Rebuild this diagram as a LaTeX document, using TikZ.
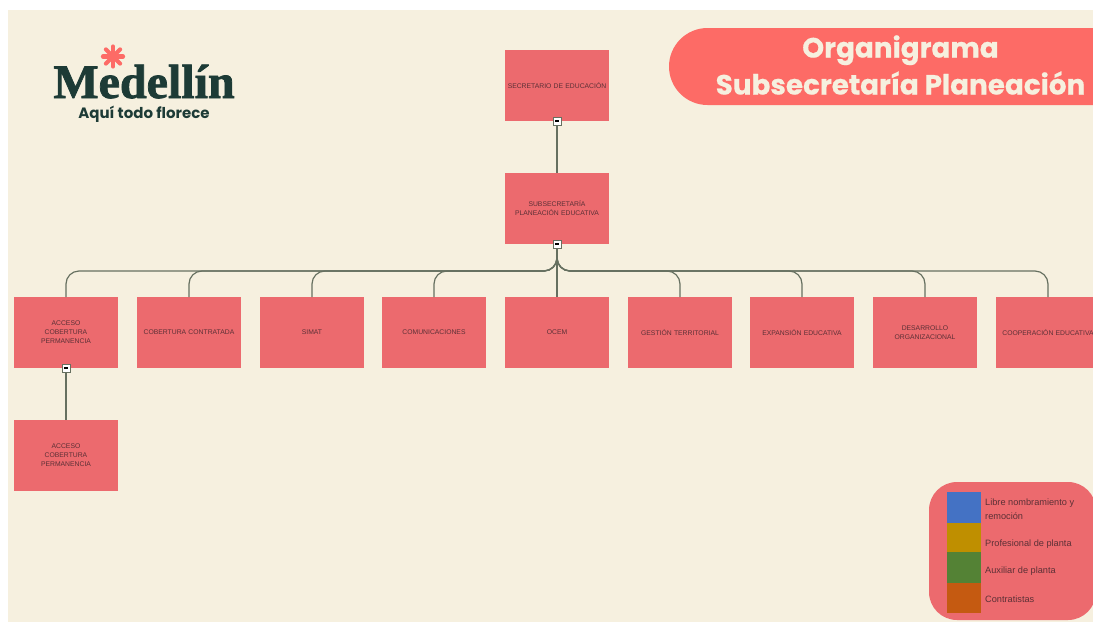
\documentclass[tikz,border=0pt]{standalone}
\usepackage{fontspec}
\usepackage{tikz}
\setmainfont{Liberation Sans}
\newfontfamily\titlefont{Poppins}
\newfontfamily\headfont[BoldFeatures = {FakeBold = 0.5}]{Poppins}
\newfontfamily\logofont[FakeBold=1.6]{Liberation Serif}
\usetikzlibrary{positioning}
\definecolor{mcream}{HTML}{F6F0DF}
\definecolor{mred}{HTML}{EC6A6E}
\definecolor{mpill}{HTML}{FD6B66}
\definecolor{mgreen}{HTML}{1D3B36}
\definecolor{mline}{HTML}{667060}
\definecolor{mtext}{HTML}{5C3036}
\definecolor{mblue}{HTML}{4472C4}
\definecolor{mamber}{HTML}{BF8F00}
\definecolor{mleaf}{HTML}{548235}
\definecolor{morange}{HTML}{C55A11}
\tikzset{unitbox/.style = {fill = mred, minimum width = 104pt, minimum height = 71pt,
                           inner sep = 0pt, outer sep = 0pt, text width = 100pt, align = center,
                           text = mtext, font = \fontsize{6.8}{9}\selectfont},
         toggle/.style = {draw = mline, fill = white, minimum size = 8.5pt, inner sep = 0pt,
                          line width = 0.5pt, path picture = {\fill [black] (-2.2pt, -0.8pt) rectangle (2.2pt, 0.8pt);}},
         tree/.style = {draw = mline, line width = 1.2pt, rounded corners = 13pt},
         swatch/.style = {minimum width = 34pt, inner sep = 0pt, outer sep = 0pt},
         legendtext/.style = {anchor = west, inner sep = 0pt, text = mtext, align = left,
                              font = \fontsize{9.2}{14}\selectfont}}

\begin{document}
\begin{tikzpicture}[x = 1pt, y = -1pt]
      \useasboundingbox (0, 0) rectangle (1093, 622);
      \clip (0, 0) rectangle (1093, 622);
      \fill [white] (0, 0) rectangle (1093, 622);
      \fill [mcream] (8, 10) rectangle (1093, 622);
      % logo
      \foreach \a in {0, 45, ..., 315}
        \draw [mpill, line width = 4.2pt, line cap = round] (113, 56.5) -- ++(\a:10);
      \node [text = mgreen, inner sep = 0pt, anchor = base] (logo) at (144, 98) {\fontsize{48}{48}\logofont\bfseries Medellín};
      \node [text = mgreen, inner sep = 0pt, anchor = base] (motto) at (144, 118) {\fontsize{15}{16}\titlefont\bfseries Aquí todo florece};
      % title
      \fill [mpill, rounded corners = 38.5pt] (669, 28) rectangle (1200, 105);
      \node [text = mcream, inner sep = 0pt, align = center, font = \fontsize{27.8}{37}\headfont\bfseries] (title) at (900.5, 65)
        {Organigrama\\ Subsecretaría Planeación};
      % units
      \node [unitbox] (secretario) at (557, 85.5) {SECRETARIO DE EDUCACIÓN};
      \node [unitbox] (subsecretaria) at (557, 208.5) {SUBSECRETARÍA\\ PLANEACIÓN EDUCATIVA};
      \node [unitbox] (acceso) at (66, 332.5) {ACCESO\\ COBERTURA\\ PERMANENCIA};
      \node [unitbox] (cobertura) at (189, 332.5) {COBERTURA CONTRATADA};
      \node [unitbox] (simat) at (312, 332.5) {SIMAT};
      \node [unitbox] (comunicaciones) at (434, 332.5) {COMUNICACIONES};
      \node [unitbox] (ocem) at (557, 332.5) {OCEM};
      \node [unitbox] (gestion) at (680, 332.5) {GESTIÓN TERRITORIAL};
      \node [unitbox] (expansion) at (802, 332.5) {EXPANSIÓN EDUCATIVA};
      \node [unitbox] (desarrollo) at (925, 332.5) {DESARROLLO\\ ORGANIZACIONAL};
      \node [unitbox] (cooperacion) at (1048, 332.5) {COOPERACIÓN EDUCATIVA};
      \node [unitbox] (accesob) at (66, 455.5) {ACCESO\\ COBERTURA\\ PERMANENCIA};
      % connectors
      \draw [tree] (secretario) -- (subsecretaria);
      \draw [tree] (acceso) -- (accesob);
      \foreach \k in {acceso, cobertura, simat, comunicaciones, gestion, expansion, desarrollo, cooperacion}
        \draw [tree] (subsecretaria.south) -- ++(0, 27) -| (\k.north);
      \draw [tree] (subsecretaria) -- (ocem);
      \node [toggle] (togglea) at (secretario.south) {};
      \node [toggle] (toggleb) at (subsecretaria.south) {};
      \node [toggle] (togglec) at (acceso.south) {};
      % legend
      \fill [mred, rounded corners = 28pt] (929, 482) rectangle (1096, 620);
      \node [swatch, fill = mblue, minimum height = 31pt] (sblue) at (964, 507.5) {};
      \node [swatch, fill = mamber, minimum height = 29pt, below = 0pt of sblue] (samber) {};
      \node [swatch, fill = mleaf, minimum height = 31pt, below = 0pt of samber] (sleaf) {};
      \node [swatch, fill = morange, minimum height = 30pt, below = 0pt of sleaf] (sorange) {};
      \node [legendtext] (libre) at (985, 509.5) {Libre nombramiento y\\ remoción};
      \node [legendtext] (profesional) at (985, 544) {Profesional de planta};
      \node [legendtext] (auxiliar) at (985, 571.5) {Auxiliar de planta};
      \node [legendtext] (contratistas) at (985, 599.5) {Contratistas};
    \end{tikzpicture}
\end{document}
